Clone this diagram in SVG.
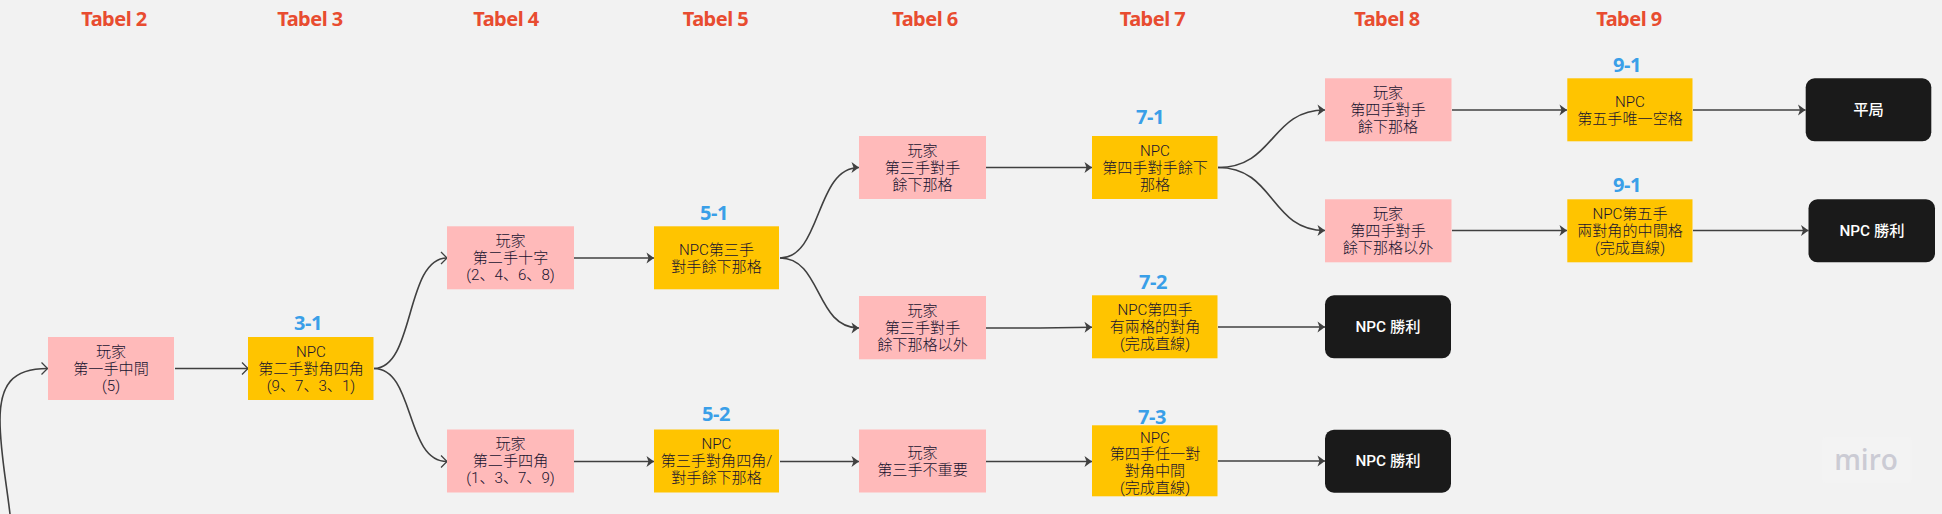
<svg xmlns="http://www.w3.org/2000/svg" width="1942" height="514" viewBox="0 0 1942 514">
<style>
text{font-family:"Roboto","Noto Sans CJK SC",sans-serif;text-anchor:middle}
.t{font-size:15.100px;fill:#17132f;font-weight:300}
.w{font-size:15.300px;fill:#fff;font-weight:500}
.h,.l{font-family:"Noto Sans","Noto Sans CJK SC",sans-serif;font-size:20px;font-weight:700;letter-spacing:-.5px}
.h{fill:#e84c30}
.l{fill:#3a9fe8}
.p{fill:#ffbaba}
.y{fill:#ffc400}
.b{fill:#1a1a1a}
.e{fill:none;stroke:#404040;stroke-width:1.600}
.o{marker-end:url(#open)}
.f{marker-end:url(#fill)}
</style>
<defs>
<marker id="open" markerUnits="userSpaceOnUse" markerWidth="12" markerHeight="14" refX="8.500" refY="7" orient="auto"><path d="M2.500 1L8.500 7L2.500 13" fill="none" stroke="#404040" stroke-width="1.300"/></marker>
<marker id="fill" markerUnits="userSpaceOnUse" markerWidth="12" markerHeight="14" refX="9" refY="7" orient="auto"><path d="M1.500 1.500L9 7L1.500 12.500L3.500 7Z" fill="#404040"/></marker>
</defs>
<rect width="1942" height="514" fill="#f2f2f2"/>
<g id="headers">
<text class="h" x="114" y="26">Tabel 2</text>
<text class="h" x="310" y="26">Tabel 3</text>
<text class="h" x="506" y="26">Tabel 4</text>
<text class="h" x="715.500" y="26">Tabel 5</text>
<text class="h" x="925" y="26">Tabel 6</text>
<text class="h" x="1152.500" y="26">Tabel 7</text>
<text class="h" x="1387" y="26">Tabel 8</text>
<text class="h" x="1629" y="26">Tabel 9</text>
</g>
<g id="labels">
<text class="l" x="308" y="330">3-1</text>
<text class="l" x="714" y="220">5-1</text>
<text class="l" x="716" y="421">5-2</text>
<text class="l" x="1150" y="124">7-1</text>
<text class="l" x="1153" y="289">7-2</text>
<text class="l" x="1152" y="424">7-3</text>
<text class="l" x="1627" y="72">9-1</text>
<text class="l" x="1627" y="192">9-1</text>
</g>
<g id="connectors">
<path class="e o" d="M10 514C6 480 0 450 0 420C0 385 12 368.500 47.500 368.500"/>
<path class="e o" d="M175 368.500H248"/>
<path class="e o" d="M374 368.500C415 368.500 405 258 447 258"/>
<path class="e o" d="M374 368.500C415 368.500 405 461.500 447 461.500"/>
<path class="e f" d="M574 258H654"/>
<path class="e f" d="M574 461.500H654"/>
<path class="e f" d="M780 258C822 258 815 167.500 859 167.500"/>
<path class="e f" d="M780 258C822 258 815 328 859 328"/>
<path class="e f" d="M780 461.500H859"/>
<path class="e f" d="M986 167.500H1092"/>
<path class="e f" d="M986 328H1040L1092 327.200"/>
<path class="e f" d="M986 461.500H1092"/>
<path class="e f" d="M1218 167.500C1275 167.500 1270 110 1325 110"/>
<path class="e f" d="M1218 167.500C1275 167.500 1270 230.500 1325 230.500"/>
<path class="e f" d="M1218 327H1325"/>
<path class="e f" d="M1218 461H1325"/>
<path class="e f" d="M1452 110H1567"/>
<path class="e f" d="M1452 230.500H1567"/>
<path class="e f" d="M1693 110H1805.500"/>
<path class="e f" d="M1693 230.500H1808.500"/>
</g>
<g id="n2"><rect class="p" x="48" y="337" width="126" height="63"/><text class="t" x="111" y="356.700">玩家</text><text class="t" x="111" y="373.700">第一手中間</text><text class="t" x="111" y="391">(5)</text></g>
<g id="n3"><rect class="y" x="248" y="337" width="125.500" height="63"/><text class="t" x="311" y="356.700">NPC</text><text class="t" x="311" y="373.700">第二手對角四角</text><text class="t" x="311" y="391">(9、7、3、1)</text></g>
<g id="n4a"><rect class="p" x="447" y="226.300" width="127" height="63"/><text class="t" x="510.500" y="245.500">玩家</text><text class="t" x="510.500" y="262.500">第二手十字</text><text class="t" x="510.500" y="280">(2、4、6、8)</text></g>
<g id="n4b"><rect class="p" x="447" y="429.500" width="127" height="63"/><text class="t" x="510.500" y="449">玩家</text><text class="t" x="510.500" y="465.700">第二手四角</text><text class="t" x="510.500" y="483">(1、3、7、9)</text></g>
<g id="n5a"><rect class="y" x="654" y="226.300" width="125" height="63"/><text class="t" x="716.500" y="254.500">NPC第三手</text><text class="t" x="716.500" y="271.500">對手餘下那格</text></g>
<g id="n5b"><rect class="y" x="654" y="429.500" width="125" height="63"/><text class="t" x="716.500" y="449">NPC</text><text class="t" x="716.500" y="465.700">第三手對角四角/</text><text class="t" x="716.500" y="483">對手餘下那格</text></g>
<g id="n6a"><rect class="p" x="859" y="136" width="127" height="63"/><text class="t" x="922.500" y="155.500">玩家</text><text class="t" x="922.500" y="172.500">第三手對手</text><text class="t" x="922.500" y="189.500">餘下那格</text></g>
<g id="n6b"><rect class="p" x="859" y="296" width="127" height="63.300"/><text class="t" x="922.500" y="315.500">玩家</text><text class="t" x="922.500" y="332.500">第三手對手</text><text class="t" x="922.500" y="349.500">餘下那格以外</text></g>
<g id="n6c"><rect class="p" x="859" y="429.500" width="127" height="63"/><text class="t" x="922.500" y="457.500">玩家</text><text class="t" x="922.500" y="474.500">第三手不重要</text></g>
<g id="n7a"><rect class="y" x="1092" y="136" width="125.500" height="63"/><text class="t" x="1155" y="155.500">NPC</text><text class="t" x="1155" y="172.500">第四手對手餘下</text><text class="t" x="1155" y="189.500">那格</text></g>
<g id="n7b"><rect class="y" x="1092" y="295.300" width="125.500" height="63"/><text class="t" x="1155" y="314.800">NPC第四手</text><text class="t" x="1155" y="331.800">有兩格的對角</text><text class="t" x="1155" y="349">(完成直線)</text></g>
<g id="n7c"><rect class="y" x="1092" y="425.300" width="125.500" height="71"/><text class="t" x="1155" y="442.500">NPC</text><text class="t" x="1155" y="459">第四手任一對</text><text class="t" x="1155" y="476">對角中間</text><text class="t" x="1155" y="492.500">(完成直線)</text></g>
<g id="n8a"><rect class="p" x="1325" y="78.300" width="126.500" height="63"/><text class="t" x="1388" y="98">玩家</text><text class="t" x="1388" y="114.500">第四手對手</text><text class="t" x="1388" y="131.500">餘下那格</text></g>
<g id="n8b"><rect class="p" x="1325" y="199.300" width="126.500" height="63"/><text class="t" x="1388" y="219">玩家</text><text class="t" x="1388" y="235.500">第四手對手</text><text class="t" x="1388" y="252.500">餘下那格以外</text></g>
<g id="n8c"><rect class="b" x="1325" y="295.300" width="126" height="63" rx="9"/><text class="w" x="1388" y="331.800">NPC 勝利</text></g>
<g id="n8d"><rect class="b" x="1325" y="429.700" width="126" height="63" rx="9"/><text class="w" x="1388" y="465.500">NPC 勝利</text></g>
<g id="n9a"><rect class="y" x="1567.300" y="78.300" width="125.200" height="63"/><text class="t" x="1630" y="106.500">NPC</text><text class="t" x="1630" y="123.500">第五手唯一空格</text></g>
<g id="n9b"><rect class="y" x="1567.300" y="199.300" width="125.200" height="63"/><text class="t" x="1630" y="219">NPC第五手</text><text class="t" x="1630" y="235.500">兩對角的中間格</text><text class="t" x="1630" y="252.500">(完成直線)</text></g>
<g id="end1"><rect class="b" x="1805.700" y="78.300" width="125.600" height="63" rx="9"/><text class="w" x="1868.500" y="114.800">平局</text></g>
<g id="end2"><rect class="b" x="1808.500" y="199.300" width="126.500" height="63" rx="9"/><text class="w" x="1872" y="235.800">NPC 勝利</text></g>
<g id="watermark"><rect x="1822" y="437" width="90" height="46" rx="4" fill="#f3f3f3"/><text x="1866" y="469.500" style="font-family:'Open Sans',sans-serif;font-size:28px;font-weight:600;fill:#cbcbd4">miro</text></g>
</svg>
